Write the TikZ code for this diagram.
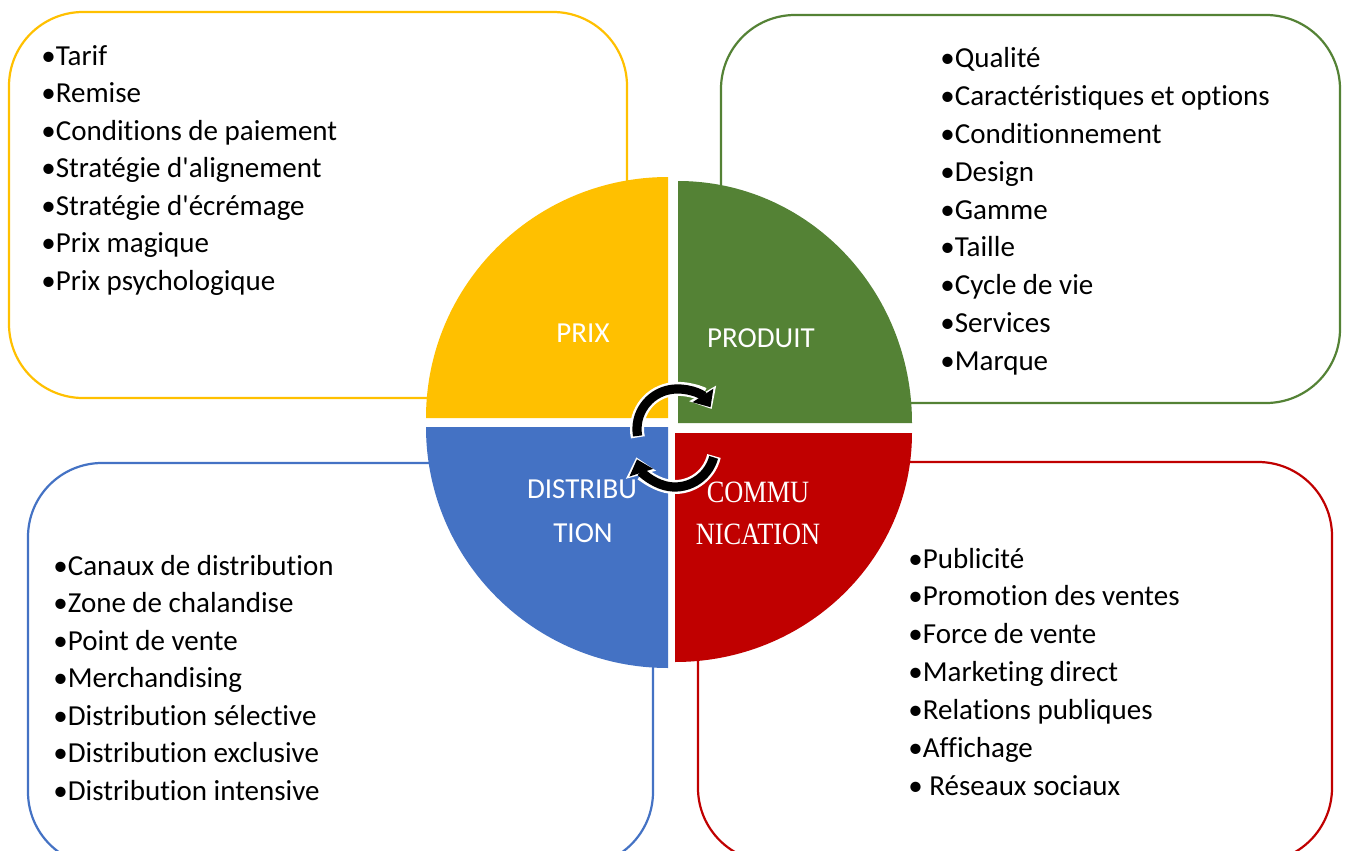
\documentclass[tikz,border=0pt]{standalone}
\usepackage{fontspec}
\setmainfont{Carlito}[Ligatures={TeXOff,NoCommon}]
\newfontfamily\commfont[FakeStretch=0.85]{Liberation Serif}
\usetikzlibrary{arrows.meta}
\definecolor{cyel}{HTML}{FFC000}
\definecolor{cgrn}{HTML}{548235}
\definecolor{cblu}{HTML}{4472C4}
\definecolor{cred}{HTML}{C00000}
\begin{document}
\begin{tikzpicture}[x=0.5pt,y=-0.5pt,
  box/.style={line width=1.1pt, rounded corners=37pt, fill=white},
  item/.style={anchor=base west, inner sep=0pt, font=\fontsize{14.5}{17}\selectfont},
  lab/.style={anchor=base, inner sep=0pt, text=white, font=\fontsize{14.5}{17}\selectfont},
  slab/.style={anchor=base, inner sep=0pt, text=white, font=\commfont\fontsize{15.5}{18}\selectfont},
  arrwhite/.style={white, line width=7pt, -{Triangle[length=9pt,width=15pt]}},
  arrblack/.style={black, line width=4.6pt, -{Triangle[length=7pt,width=12pt]}}]
\useasboundingbox (0,0) rectangle (1346,851);
\clip (0,0) rectangle (1346,851);
\fill[white] (0,0) rectangle (1346,851);
% boxes
\draw[box, draw=cyel] (9,12) rectangle (627,398);
\draw[box, draw=cgrn] (721,15) rectangle (1340,403);
\draw[box, draw=cblu] (28,463) rectangle (653,866);
\draw[box, draw=cred] (698,462) rectangle (1332,862);
% quadrants
\fill[cyel] (668,418) -- (426,418) arc[start angle=180,end angle=270,x radius=242,y radius=241] -- cycle;
\fill[cgrn] (678,423) -- (678,181) arc[start angle=270,end angle=360,x radius=234,y radius=242] -- cycle;
\fill[cred] (675,433) -- (912,433) arc[start angle=0,end angle=90,x radius=237,y radius=229] -- cycle;
\fill[cblu] (668,427) -- (668,668) arc[start angle=90,end angle=180,x radius=242,y radius=241] -- cycle;
% quadrant labels
\node[lab] (lprix) at (583,342) {PRIX};
\node[lab] (lprod) at (761,347) {PRODUIT};
\node[lab] (ldist1) at (582,498) {DISTRIBU};
\node[lab] (ldist2) at (583,542) {TION};
\node[slab] (lcom1) at (758,502) {COMMU};
\node[slab] (lcom2) at (758,544) {NICATION};
% circular arrows
\coordinate (cu) at (677,429);
\coordinate (cl) at (675,447);
\draw[arrwhite] (cu) ++(168:40) arc[start angle=168,end angle=330,radius=40];
\draw[arrblack] (cu) ++(170:40) arc[start angle=170,end angle=327,radius=40];
\draw[arrwhite] (cl) ++(13:40) arc[start angle=13,end angle=165,radius=40];
\draw[arrblack] (cl) ++(15:40) arc[start angle=15,end angle=162,radius=40];
% lists
\foreach \t [count=\i] in {Tarif,Remise,Conditions de paiement,Stratégie d'alignement,Stratégie d'écrémage,Prix magique,Prix psychologique}
  \node[item] (py\i) at (41,{65+37.5*(\i-1)}) {•\t};
\foreach \t [count=\i] in {Qualité,Caractéristiques et options,Conditionnement,Design,Gamme,Taille,Cycle de vie,Services,Marque}
  \node[item] (pg\i) at (940,{68+37.75*(\i-1)}) {•\t};
\foreach \t [count=\i] in {Canaux de distribution,Zone de chalandise,Point de vente,Merchandising,Distribution sélective,Distribution exclusive,Distribution intensive}
  \node[item] (pb\i) at (53,{575+37.5*(\i-1)}) {•\t};
\foreach \t [count=\i] in {Publicité,Promotion des ventes,Force de vente,Marketing direct,Relations publiques,Affichage}
  \node[item] (pr\i) at (908,{568+37.8*(\i-1)}) {•\t};
\node[item] (pr7) at (908,795) {• Réseaux sociaux};
\end{tikzpicture}
\end{document}
